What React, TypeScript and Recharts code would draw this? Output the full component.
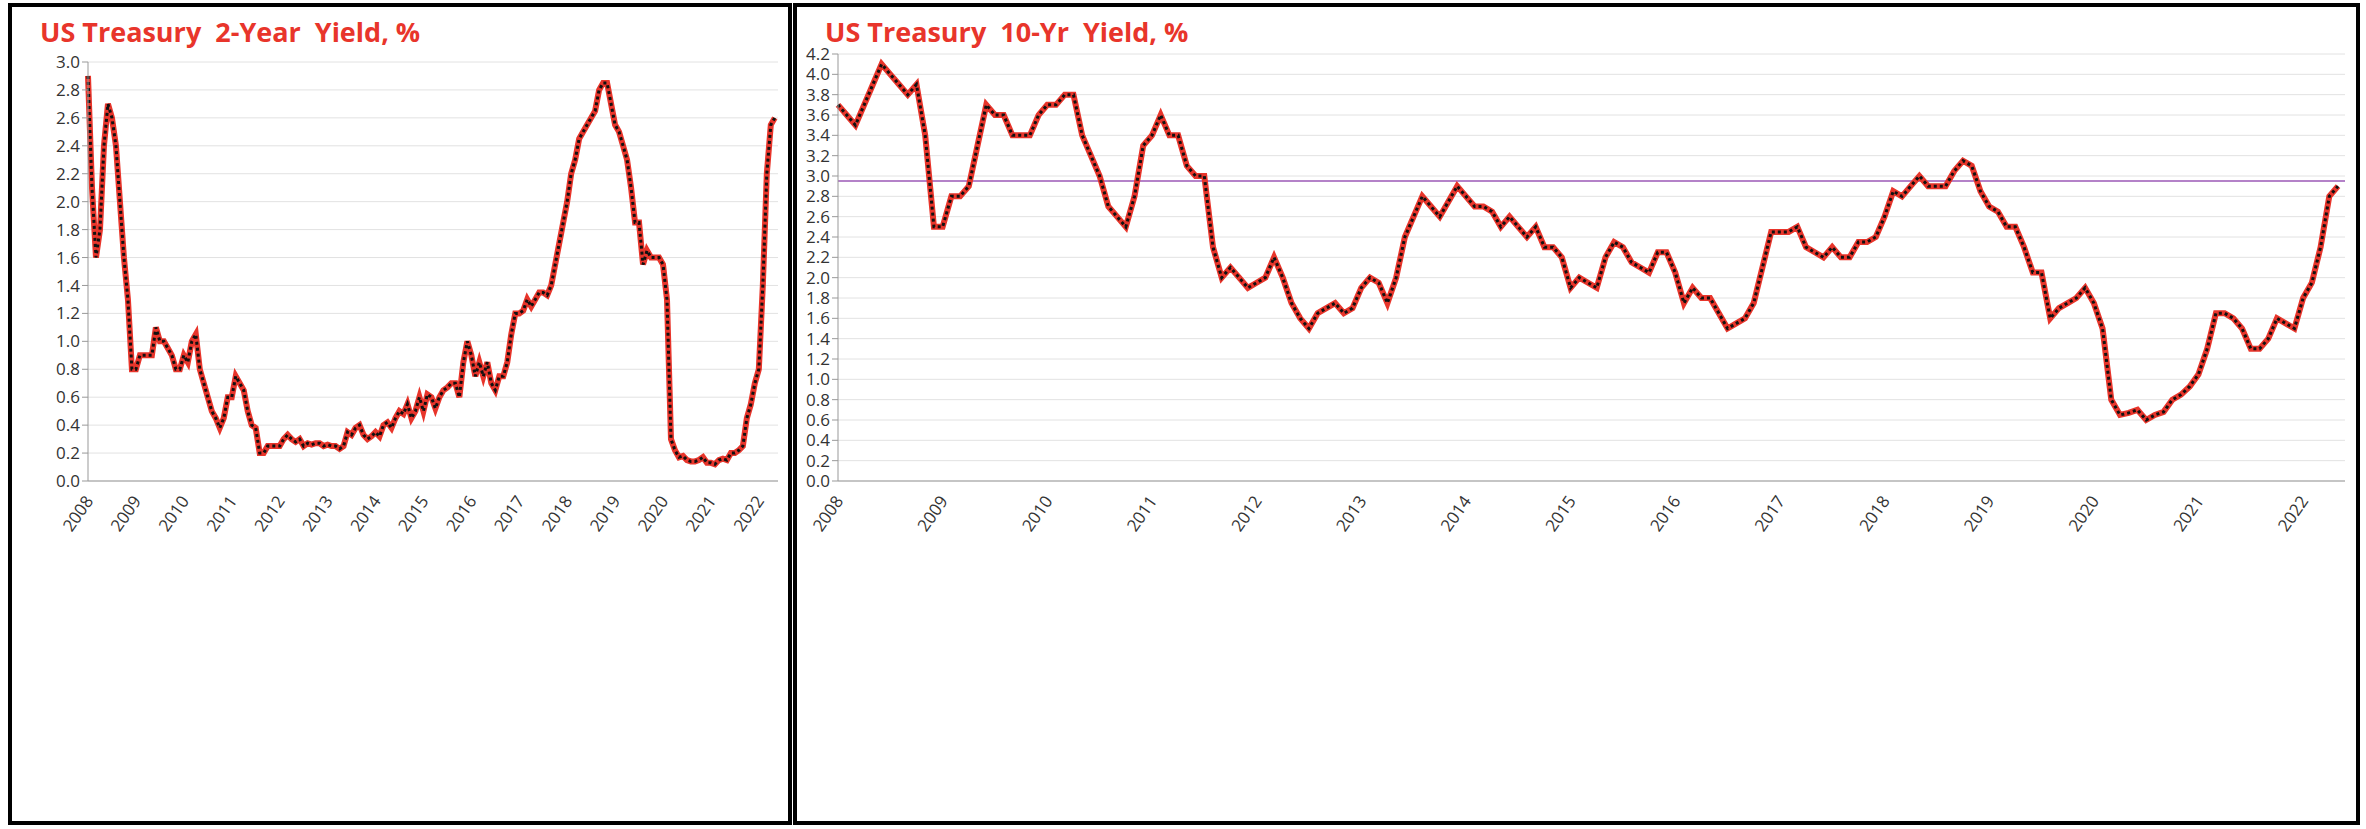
import { LineChart, Line, XAxis, YAxis, CartesianGrid, ReferenceLine } from "recharts"

const years = [2008, 2009, 2010, 2011, 2012, 2013, 2014, 2015, 2016, 2017, 2018, 2019, 2020, 2021, 2022]

const twoYear = [
  2.9, 2.1, 1.6, 1.8, 2.4, 2.7, 2.6, 2.4, 2.0, 1.6, 1.3, 0.8,
  0.8, 0.9, 0.9, 0.9, 0.9, 1.1, 1.0, 1.0, 0.95, 0.9, 0.8, 0.8,
  0.9, 0.85, 1.0, 1.05, 0.8, 0.7, 0.6, 0.5, 0.45, 0.38, 0.45, 0.6,
  0.6, 0.75, 0.7, 0.65, 0.5, 0.4, 0.38, 0.2, 0.2, 0.25, 0.25, 0.25,
  0.25, 0.3, 0.33, 0.3, 0.28, 0.3, 0.25, 0.27, 0.26, 0.27, 0.27, 0.25,
  0.26, 0.25, 0.25, 0.23, 0.25, 0.35, 0.33, 0.38, 0.4, 0.33, 0.3, 0.32,
  0.35, 0.32, 0.4, 0.42, 0.38, 0.45, 0.5, 0.48, 0.55, 0.45, 0.5, 0.6,
  0.5, 0.62, 0.6, 0.52, 0.6, 0.65, 0.67, 0.7, 0.7, 0.6, 0.85, 1.0,
  0.9, 0.75, 0.85, 0.75, 0.85, 0.7, 0.65, 0.75, 0.75, 0.85, 1.05, 1.2,
  1.2, 1.22, 1.3, 1.25, 1.3, 1.35, 1.35, 1.33, 1.4, 1.55, 1.7, 1.85,
  2.0, 2.2, 2.3, 2.45, 2.5, 2.55, 2.6, 2.65, 2.8, 2.85, 2.85, 2.7,
  2.55, 2.5, 2.4, 2.3, 2.1, 1.85, 1.85, 1.55, 1.65, 1.6, 1.6, 1.6,
  1.55, 1.3, 0.3, 0.22, 0.17, 0.18, 0.15, 0.14, 0.14, 0.15, 0.17, 0.13,
  0.13, 0.12, 0.15, 0.16, 0.15, 0.2, 0.2, 0.22, 0.25, 0.45, 0.55, 0.7,
  0.8, 1.4, 2.2, 2.55, 2.6,
]

const tenYear = [
  3.7, 3.6, 3.5, 3.7, 3.9, 4.1, 4.0, 3.9, 3.8, 3.9, 3.4, 2.5,
  2.5, 2.8, 2.8, 2.9, 3.3, 3.7, 3.6, 3.6, 3.4, 3.4, 3.4, 3.6,
  3.7, 3.7, 3.8, 3.8, 3.4, 3.2, 3.0, 2.7, 2.6, 2.5, 2.8, 3.3,
  3.4, 3.6, 3.4, 3.4, 3.1, 3.0, 3.0, 2.3, 2.0, 2.1, 2.0, 1.9,
  1.95, 2.0, 2.2, 2.0, 1.75, 1.6, 1.5, 1.65, 1.7, 1.75, 1.65, 1.7,
  1.9, 2.0, 1.95, 1.75, 2.0, 2.4, 2.6, 2.8, 2.7, 2.6, 2.75, 2.9,
  2.8, 2.7, 2.7, 2.65, 2.5, 2.6, 2.5, 2.4, 2.5, 2.3, 2.3, 2.2,
  1.9, 2.0, 1.95, 1.9, 2.2, 2.35, 2.3, 2.15, 2.1, 2.05, 2.25, 2.25,
  2.05, 1.75, 1.9, 1.8, 1.8, 1.65, 1.5, 1.55, 1.6, 1.75, 2.1, 2.45,
  2.45, 2.45, 2.5, 2.3, 2.25, 2.2, 2.3, 2.2, 2.2, 2.35, 2.35, 2.4,
  2.6, 2.85, 2.8, 2.9, 3.0, 2.9, 2.9, 2.9, 3.05, 3.15, 3.1, 2.85,
  2.7, 2.65, 2.5, 2.5, 2.3, 2.05, 2.05, 1.6, 1.7, 1.75, 1.8, 1.9,
  1.75, 1.5, 0.8, 0.65, 0.67, 0.7, 0.6, 0.65, 0.68, 0.8, 0.85, 0.93,
  1.05, 1.3, 1.65, 1.65, 1.6, 1.5, 1.3, 1.3, 1.4, 1.6, 1.55, 1.5,
  1.8, 1.95, 2.3, 2.8, 2.9,
]

const twoYearTicks = [0, 0.2, 0.4, 0.6, 0.8, 1.0, 1.2, 1.4, 1.6, 1.8, 2.0, 2.2, 2.4, 2.6, 2.8, 3.0]
const tenYearTicks = [0, 0.2, 0.4, 0.6, 0.8, 1.0, 1.2, 1.4, 1.6, 1.8, 2.0, 2.2, 2.4, 2.6, 2.8, 3.0, 3.2, 3.4, 3.6, 3.8, 4.0, 4.2]

const toRows = (vals: number[]) => vals.map((v, i) => ({ t: 2008 + i / 12, v }))

const font = "'Open Sans', 'Liberation Sans', sans-serif"

const YearTick = (props: any) => {
  const { x, y, payload } = props
  return (
    <text x={x + 6} y={y + 12} transform={`rotate(-55, ${x + 6}, ${y + 12})`} textAnchor="end"
      fontSize={17} fill="#333" fontFamily={font}>
      {payload.value}
    </text>
  )
}

function Panel(props: {
  left: number; width: number; title: string; data: { t: number; v: number }[];
  yMax: number; ticks: number[]; margin: any; yWidth: number; refY?: number
}) {
  const { left, width, title, data, yMax, ticks, margin, yWidth, refY } = props
  return (
    <div style={{ position: "absolute", left, top: 3, width, height: 822, border: "4px solid #000", boxSizing: "border-box", background: "#fff" }}>
      <div style={{ position: "absolute", left: 28, top: 6, color: "#e8352b", fontSize: 27, fontWeight: 700, fontFamily: font, whiteSpace: "pre" }}>
        {title}
      </div>
      <LineChart width={width - 8} height={814} data={data} margin={margin}>
        <CartesianGrid vertical={false} stroke="#e2e2e2" />
        <XAxis dataKey="t" type="number" domain={[2008, 2022.4]} ticks={years} interval={0}
          tick={<YearTick />} tickLine={false} axisLine={{ stroke: "#999" }} height={60} />
        <YAxis domain={[0, yMax]} ticks={ticks} interval={0} width={yWidth}
          tickFormatter={(v: number) => v.toFixed(1)} tick={{ fontSize: 17, fill: "#333", fontFamily: font }}
          axisLine={{ stroke: "#999" }} tickLine={{ stroke: "#999" }} tickSize={6} allowDataOverflow />
        {refY !== undefined && <ReferenceLine y={refY} stroke="#9b59b6" strokeWidth={1.5} />}
        <Line dataKey="v" stroke="#e8352b" strokeWidth={6} dot={false} isAnimationActive={false} />
        <Line dataKey="v" stroke="#111" strokeWidth={3} strokeDasharray="3 3" dot={false} isAnimationActive={false} />
      </LineChart>
    </div>
  )
}

export default function App() {
  return (
    <div style={{ position: "fixed", left: 0, top: 0, width: 2366, height: 829, background: "#fff" }}>
      <Panel left={8} width={784} title="US Treasury  2-Year  Yield, %" data={toRows(twoYear)} yMax={3.0}
        ticks={twoYearTicks} yWidth={50} margin={{ top: 55, right: 10, left: 26, bottom: 280 }} />
      <Panel left={793} width={1567} title="US Treasury  10-Yr  Yield, %" data={toRows(tenYear)} yMax={4.2}
        ticks={tenYearTicks} yWidth={40} margin={{ top: 47, right: 11, left: 1, bottom: 280 }} refY={2.95} />
    </div>
  )
}
